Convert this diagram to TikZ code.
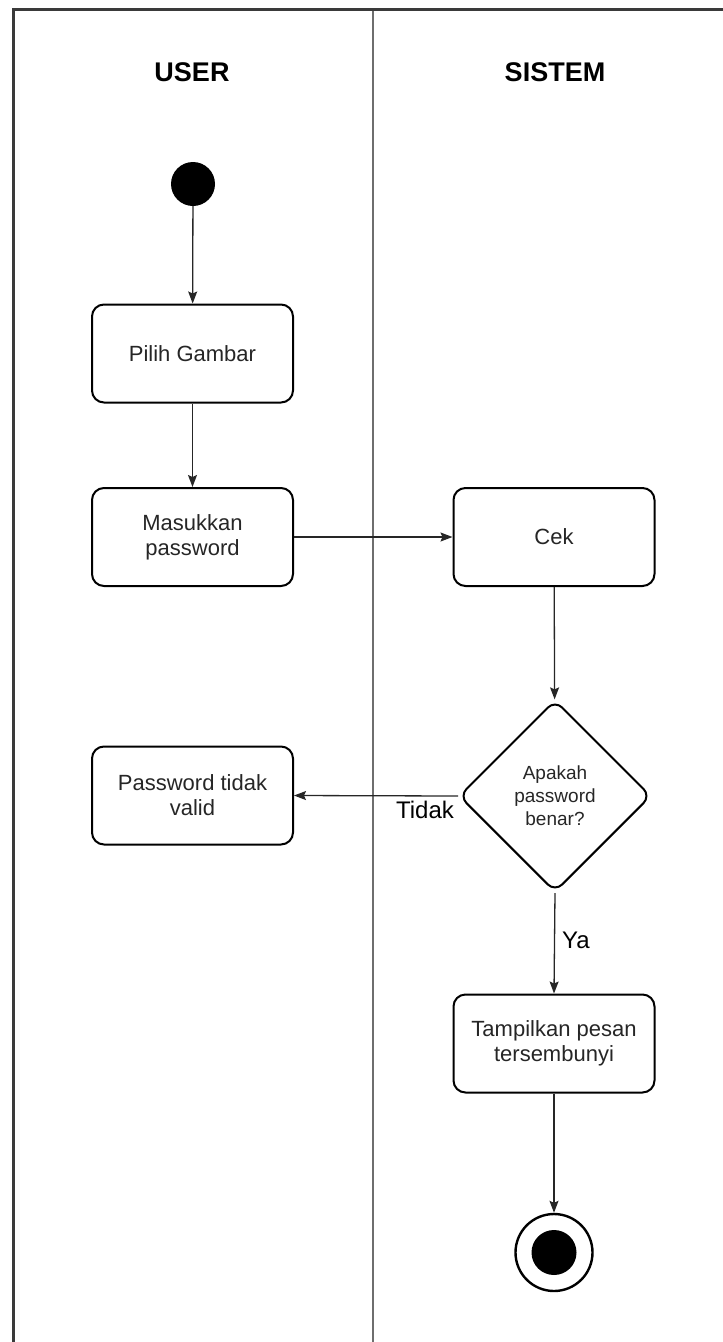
\documentclass[tikz,border=0pt]{standalone}
\usepackage{fontspec}
\setmainfont{Liberation Sans}
\usetikzlibrary{shapes.geometric,arrows.meta}
\definecolor{framegray}{HTML}{3A3A3A}
\definecolor{lanegray}{HTML}{6E6E6E}
\definecolor{inkgray}{HTML}{262626}
\begin{document}
\begin{tikzpicture}[x=1pt,y=-1pt,
  lanehead/.style={font=\fontsize{27}{30}\selectfont\bfseries, text=black},
  action/.style={draw=black, line width=2pt, rounded corners=12pt, fill=white,
    minimum width=201pt, minimum height=98pt, align=center, inner sep=4pt,
    text=inkgray, font=\fontsize{22}{25}\selectfont},
  decision/.style={draw=black, line width=2pt, diamond, aspect=1, rounded corners=10pt,
    minimum width=192pt, minimum height=192pt, inner sep=0pt, align=center,
    text=inkgray, font=\fontsize{19}{23}\selectfont},
  flow/.style={draw=inkgray, line width=1.3pt, -{Stealth[length=12pt,width=9pt,inset=2pt]}},
  guard/.style={text=black, font=\fontsize{24}{27}\selectfont}
]
\useasboundingbox (0,0) rectangle (723,1342);
\begin{scope}
  \clip (0,0) rectangle (723,1342);
  % swimlane frame and separator
  \draw[lanegray, line width=1.6pt] (373,9) -- (373,1350);
  \draw[framegray, line width=3pt] (13.5,1350) -- (13.5,9.5) -- (740,9.5);
\end{scope}

% lane headings
\node[lanehead] (huser) at (192,72) {USER};
\node[lanehead] (hsys) at (555,72) {SISTEM};

% activity nodes
\node[circle, fill=black, minimum size=44pt, inner sep=0pt] (start) at (193,184) {};
\node[action] (pilih) at (192.5,353.5) {Pilih Gambar};
\node[action] (masuk) at (192.5,537) {Masukkan\\password};
\node[action] (cek) at (554,537) {Cek};
\node[decision] (dec) at (555,796) {Apakah\\password\\benar?};
\node[action] (invalid) at (192.5,795.5) {Password tidak\\valid};
\node[action] (tampil) at (554,1043.5) {Tampilkan pesan\\tersembunyi};
\node[circle, draw=black, line width=2.4pt, fill=white, minimum size=77pt, inner sep=0pt] (stop) at (554,1252.5) {};
\node[circle, fill=black, minimum size=45pt, inner sep=0pt] (stopdot) at (stop.center) {};

% control flow
\draw[flow] (start) -- (pilih);
\draw[flow] (pilih) -- (masuk);
\draw[flow] (masuk) -- (cek);
\draw[flow] (cek) -- (dec);
\draw[flow] (dec.west) -- (invalid.east);
\draw[flow] (dec.south) -- (tampil.north);
\draw[flow] (tampil) -- (stop);

% guard labels
\node[guard] (lno) at (425,810) {Tidak};
\node[guard] (lyes) at (576,940) {Ya};
\end{tikzpicture}
\end{document}
